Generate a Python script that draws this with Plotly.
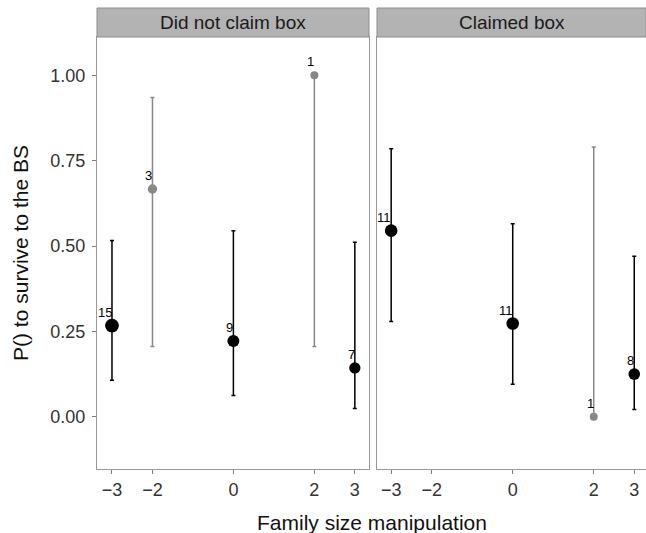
import numpy as np
import plotly.graph_objects as go

panels = ["Did not claim box", "Claimed box"]

x_nc = [-3, -2, 0, 2, 3]
y_nc = [0.267, 0.667, 0.222, 1.0, 0.143]
lo_nc = [0.107, 0.206, 0.062, 0.206, 0.024]
hi_nc = [0.516, 0.935, 0.545, 1.0, 0.511]
n_nc = [15, 3, 9, 1, 7]

x_c = [-3, 0, 2, 3]
y_c = [0.545, 0.273, 0.0, 0.125]
lo_c = [0.279, 0.095, 0.0, 0.021]
hi_c = [0.785, 0.565, 0.790, 0.470]
n_c = [11, 11, 1, 8]

x_ticks = [-3, -2, 0, 2, 3]
x_ticktext = ["\u22123", "\u22122", "0", "2", "3"]
y_ticks = [0.0, 0.25, 0.5, 0.75, 1.0]
y_ticktext = ["0.00", "0.25", "0.50", "0.75", "1.00"]

FONT = "Arial, Liberation Sans, sans-serif"
W, H = 646, 533
ml, mr, mt, mb = 97, 0, 37, 64
pw = W - ml - mr
ph = H - mt - mb

fig = go.Figure()

datasets = [(x_nc, y_nc, lo_nc, hi_nc, n_nc), (x_c, y_c, lo_c, hi_c, n_c)]
for i, (xs, ys, los, his, ns) in enumerate(datasets):
    xa = "x" if i == 0 else "x2"
    ya = "y" if i == 0 else "y2"
    for xv, yv, lo, hi, n in zip(xs, ys, los, his, ns):
        col = "#000000" if n >= 5 else "#888888"
        size = 6.0 + 2.0 * np.sqrt(n)
        fig.add_trace(go.Scatter(
            x=[xv], y=[yv], mode="markers", xaxis=xa, yaxis=ya,
            marker=dict(color=col, size=size, line=dict(width=0)),
            error_y=dict(type="data", symmetric=False, array=[hi - yv], arrayminus=[yv - lo],
                         color=col, thickness=1.5, width=2),
            showlegend=False, hoverinfo="skip"))
        fig.add_annotation(x=xv, y=yv, xref=xa, yref=ya, text=str(n), showarrow=False,
                           xanchor="right", yanchor="bottom", xshift=2, yshift=4,
                           font=dict(family=FONT, size=13, color="#000000"))

d1 = [0, 272 / pw]
d2 = [280 / pw, 1]
yr = [-0.153, 1.112]

axis_common = dict(showgrid=False, zeroline=False, ticklen=4, tickcolor="#7f7f7f",
                   showline=True, linecolor="#9a9a9a", linewidth=1, mirror=True,
                   tickfont=dict(family=FONT, size=18, color="#333333"))

fig.update_layout(
    width=W, height=H,
    margin=dict(l=ml, r=mr, t=mt, b=mb),
    paper_bgcolor="white", plot_bgcolor="white",
    xaxis=dict(domain=d1, range=[-3.37, 3.35], tickvals=x_ticks, ticktext=x_ticktext, anchor="y",
               ticks="outside", **axis_common),
    xaxis2=dict(domain=d2, range=[-3.35, 3.29], tickvals=x_ticks, ticktext=x_ticktext, anchor="y2",
                ticks="outside", **axis_common),
    yaxis=dict(domain=[0, 1], range=yr, tickvals=y_ticks, ticktext=y_ticktext, anchor="x",
               ticks="outside", ticklabelstandoff=3,
               title=dict(text="P() to survive to the BS", font=dict(family=FONT, size=21, color="#111111"), standoff=16),
               **axis_common),
    yaxis2=dict(domain=[0, 1], range=yr, tickvals=y_ticks, anchor="x2",
                showticklabels=False, ticks="", **axis_common),
)

# strip headers
strip_h = 29 / ph
for dom, label in zip([d1, d2], panels):
    fig.add_shape(type="rect", xref="paper", yref="paper", x0=dom[0], x1=dom[1], y0=1, y1=1 + strip_h,
                  fillcolor="#b3b3b3", line=dict(color="#8c8c8c", width=1))
    fig.add_annotation(xref="paper", yref="paper", x=(dom[0] + dom[1]) / 2, y=1 + strip_h / 2,
                       xanchor="center", yanchor="middle",
                       text=label, showarrow=False, font=dict(family=FONT, size=19, color="#1a1a1a"))

fig.add_annotation(xref="paper", yref="paper", x=0.5, y=-40 / ph, xanchor="center", yanchor="top",
                   text="Family size manipulation", showarrow=False,
                   font=dict(family=FONT, size=21, color="#111111"))

fig.write_html("out.html", config={"displayModeBar": False},
               post_script="document.body.style.margin='0';document.body.style.overflow='hidden';")
